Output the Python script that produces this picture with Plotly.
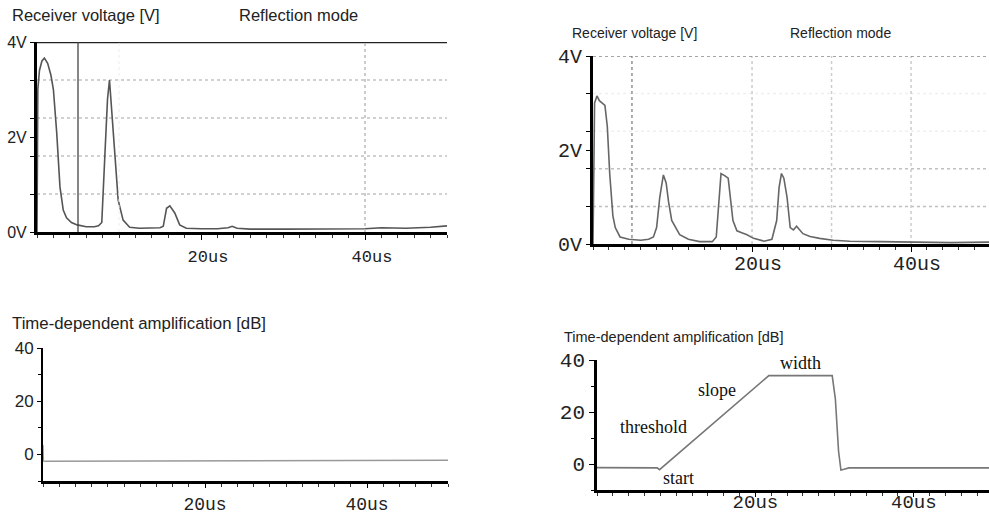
import plotly.graph_objects as go

W, H = 989, 516

# ---------------- data ----------------
# Panel A: receiver voltage, no TGC (time in us, voltage in V)
t_a = [0, 0.1, 0.3, 0.6, 0.9, 1.3, 1.7, 2.0, 2.4, 2.8, 3.2, 3.6, 4.2, 4.9, 6.0, 7.0, 7.5,
       7.9, 8.3, 8.6, 8.84, 9.1, 9.5, 9.9, 10.5, 11.3, 12.5, 14.0, 15.0, 15.4, 15.8, 16.2,
       16.8, 17.4, 18.2, 20.0, 22.0, 23.3, 23.8, 24.4, 26.0, 30.0, 35.0, 40.0, 42.0, 45.0,
       48.0, 50.0]
v_a = [0, 3.0, 3.4, 3.6, 3.66, 3.55, 3.3, 3.0, 2.1, 0.95, 0.46, 0.3, 0.2, 0.15, 0.11, 0.11, 0.13,
       0.2, 1.7, 2.8, 3.2, 2.6, 1.5, 0.67, 0.25, 0.1, 0.08, 0.08, 0.09, 0.12, 0.5, 0.55,
       0.4, 0.15, 0.08, 0.07, 0.07, 0.09, 0.12, 0.08, 0.06, 0.06, 0.06, 0.07, 0.09, 0.08,
       0.1, 0.13]

# Panel B: receiver voltage with TGC
t_b = [0, 0.2, 0.5, 0.8, 1.5, 1.8, 2.1, 2.5, 2.8, 3.4, 4.5, 6.0, 7.0, 7.6, 8.0, 8.4, 8.85,
       9.2, 9.5, 9.9, 10.9, 12.0, 13.4, 15.0, 15.5, 15.8, 16.1, 16.6, 17.0, 17.6, 18.1, 18.7,
       19.3, 20.2, 21.5, 22.5, 23.1, 23.4, 23.7, 24.0, 24.4, 24.8, 25.2, 25.6, 26.0, 26.4,
       27.3, 28.5, 30.2, 32.3, 36.0, 40.0, 45.0, 50.0]
v_b = [0, 3.0, 3.15, 3.05, 2.95, 2.5, 1.5, 0.6, 0.35, 0.15, 0.1, 0.08, 0.1, 0.15, 0.35, 1.0, 1.47,
       1.3, 0.9, 0.5, 0.2, 0.1, 0.05, 0.05, 0.15, 0.8, 1.5, 1.45, 1.4, 0.5, 0.28, 0.24,
       0.2, 0.12, 0.06, 0.1, 0.5, 1.2, 1.5, 1.4, 1.0, 0.35, 0.3, 0.38, 0.3, 0.22,
       0.16, 0.12, 0.08, 0.06, 0.05, 0.04, 0.03, 0.04]

# Panel C: TGC off (dB)
t_c = [0, 0.05, 0.3, 25.0, 50.0]
g_c = [3.5, -2.5, -2.6, -2.5, -2.2]

# Panel D: TGC curve (dB)
t_d = [0, 7.6, 7.9, 21.7, 29.7, 30.1, 30.5, 30.8, 31.2, 31.8, 50.0]
g_d = [-1.4, -1.5, -2.2, 34.0, 34.0, 25.0, 5.0, -2.3, -2.0, -1.5, -1.5]

# annotations for panel D: (label, t, dB)
labels_d = [("width", 25.7, 39.0), ("slope", 15.2, 28.5),
            ("threshold", 7.1, 14.2), ("start", 10.3, -5.4)]

volt_ticks = [0, 2, 4]
volt_text = ["0V", "2V", "4V"]
volt_grid = [0.8, 1.6, 2.4, 3.2]
db_ticks = [0, 20, 40]
db_text = ["0", "20", "40"]
time_ticks = [20, 40]
time_text = ["20us", "40us"]

# ---------------- helpers ----------------
def fx(px):
    return px / W

def fy(py):
    return 1 - py / H

MONO = "Liberation Mono"
SANS = "Liberation Sans"
SERIF = "Liberation Serif"

fig = go.Figure()

fig.add_trace(go.Scatter(x=t_a, y=v_a, mode="lines", xaxis="x", yaxis="y",
                         line=dict(color="#555", width=1.6), hoverinfo="skip"))
fig.add_trace(go.Scatter(x=t_b, y=v_b, mode="lines", xaxis="x2", yaxis="y2",
                         line=dict(color="#666", width=1.6), hoverinfo="skip"))
fig.add_trace(go.Scatter(x=t_c, y=g_c, mode="lines", xaxis="x3", yaxis="y3",
                         line=dict(color="#999", width=1.4), hoverinfo="skip"))
fig.add_trace(go.Scatter(x=t_d, y=g_d, mode="lines", xaxis="x4", yaxis="y4",
                         line=dict(color="#777", width=1.6), hoverinfo="skip"))

common_x = dict(showgrid=False, zeroline=False, showline=True, linecolor="black",
                ticks="outside", tickcolor="black", tickvals=time_ticks, ticktext=time_text)
common_y = dict(showgrid=False, zeroline=False, showline=True, linecolor="black",
                ticks="outside", tickcolor="black")

layout = dict(
    width=W, height=H, margin=dict(l=0, r=0, t=0, b=0, autoexpand=False),
    paper_bgcolor="white", plot_bgcolor="white", showlegend=False,
    xaxis=dict(common_x, domain=[fx(37), fx(447)], range=[0, 50], anchor="y",
               linewidth=2.5, ticklen=5, tickfont=dict(family=MONO, size=17, color="#222"),
               ticklabelstandoff=2, ticklabelshift=7, automargin=False,
               minor=dict(dtick=2, ticklen=3, ticks="outside", tickcolor="#333")),
    yaxis=dict(common_y, domain=[fy(232), fy(42)], range=[0, 4], anchor="x",
               linewidth=3, ticklen=4, tickvals=volt_ticks, ticktext=volt_text, automargin=False,
               tickfont=dict(family=SANS, size=16, color="#222"),
               minor=dict(tickvals=volt_grid, ticklen=4, ticks="outside")),
    xaxis2=dict(common_x, domain=[fx(593), 1.0], range=[0, 49.8], anchor="y2",
                linewidth=2.5, ticklen=5, tickfont=dict(family=MONO, size=20, color="#222"),
                ticklabelstandoff=-6, ticklabelshift=6, automargin=False,
                minor=dict(dtick=2, ticklen=3, ticks="outside", tickcolor="#333")),
    yaxis2=dict(common_y, domain=[fy(244), fy(56)], range=[0, 4], anchor="x2",
                linewidth=3, ticklen=4, tickvals=volt_ticks, ticktext=volt_text, automargin=False,
                tickfont=dict(family=MONO, size=20, color="#222"),
                minor=dict(tickvals=volt_grid, ticklen=4, ticks="outside")),
    xaxis3=dict(common_x, domain=[fx(43), fx(448)], range=[0, 50], anchor="y3",
                linewidth=2.5, ticklen=4, tickfont=dict(family=MONO, size=18, color="#222"),
                ticklabelstandoff=1, automargin=False,
                minor=dict(dtick=2, ticklen=3, ticks="outside", tickcolor="#333")),
    yaxis3=dict(common_y, domain=[fy(481), fy(348)], range=[-10, 40], anchor="x3",
                linewidth=2, ticklen=4, tickvals=db_ticks, ticktext=db_text, automargin=False,
                tickfont=dict(family=SANS, size=17, color="#222"),
                minor=dict(tickvals=[-10, 10, 30], ticklen=3, ticks="outside")),
    xaxis4=dict(common_x, domain=[fx(597), 1.0], range=[0, 49.5], anchor="y4",
                linewidth=2.5, ticklen=4, tickfont=dict(family=MONO, size=19, color="#222"),
                ticklabelstandoff=-12, automargin=False,
                minor=dict(dtick=2, ticklen=3, ticks="outside", tickcolor="#333")),
    yaxis4=dict(common_y, domain=[fy(490), fy(360)], range=[-10, 40], anchor="x4",
                linewidth=2.5, ticklen=5, tickvals=db_ticks, ticktext=db_text, automargin=False,
                tickfont=dict(family=MONO, size=21, color="#222"),
                minor=dict(tickvals=[-10, 10, 30], ticklen=3, ticks="outside")),
)
fig.update_layout(**layout)

shapes = []
# panel A horizontal dotted grid
for gv in volt_grid:
    shapes.append(dict(type="line", xref="x", yref="y", x0=0, x1=50, y0=gv, y1=gv,
                       line=dict(color="#c2c2c2", width=1.5, dash="dot"), layer="below"))
# panel B horizontal dotted grid (upper ones barely visible)
for gv, col in zip(volt_grid, ["#c0c0c0", "#c0c0c0", "#f0f0f0", "#f0f0f0"]):
    shapes.append(dict(type="line", xref="x2", yref="y2", x0=0, x1=49.8, y0=gv, y1=gv,
                       line=dict(color=col, width=1.5, dash="dot"), layer="below"))
shapes += [
    # panel A: heavy top border, cursor, dashed 40us grid, faint 10us grid
    dict(type="line", xref="x", yref="y", x0=0, x1=50, y0=4, y1=4,
         line=dict(color="#222", width=2.5)),
    dict(type="line", xref="x", yref="y", x0=5, x1=5, y0=0, y1=4,
         line=dict(color="#444", width=1.3)),
    dict(type="line", xref="x", yref="y", x0=40, x1=40, y0=0, y1=4,
         line=dict(color="#bbb", width=1.5, dash="dot")),
    dict(type="line", xref="x", yref="y", x0=10, x1=10, y0=0, y1=4,
         line=dict(color="#eee", width=1, dash="dot")),
    # panel B: dotted top border, cursor
    dict(type="line", xref="x2", yref="y2", x0=0, x1=49.8, y0=4, y1=4,
         line=dict(color="#888", width=1.5, dash="dot")),
    dict(type="line", xref="x2", yref="y2", x0=4.9, x1=4.9, y0=0, y1=4,
         line=dict(color="#777", width=1.2, dash="dot")),
]
for xv in (20, 30, 40):
    shapes.append(dict(type="line", xref="x2", yref="y2", x0=xv, x1=xv, y0=0, y1=4,
                       line=dict(color="#ccc", width=1.5, dash="dot"), layer="below"))
fig.update_layout(shapes=shapes)

ann = [
    dict(text="Receiver voltage [V]", x=fx(10), y=fy(15), size=16.5),
    dict(text="Reflection mode", x=fx(237), y=fy(15), size=16.5),
    dict(text="Receiver voltage [V]", x=fx(570), y=fy(33), size=14),
    dict(text="Reflection mode", x=fx(788), y=fy(33), size=14),
    dict(text="Time-dependent amplification [dB]", x=fx(10), y=fy(323), size=16.8),
    dict(text="Time-dependent amplification [dB]", x=fx(562), y=fy(337), size=14.5),
]
annotations = []
for a in ann:
    annotations.append(dict(text=a["text"], x=a["x"], y=a["y"], xref="paper", yref="paper",
                            xanchor="left", yanchor="middle", showarrow=False,
                            font=dict(family=SANS, size=a["size"], color="#222")))
for lab, tx, ty in labels_d:
    annotations.append(dict(text=lab, x=tx, y=ty, xref="x4", yref="y4",
                            xanchor="center", yanchor="middle", showarrow=False,
                            font=dict(family=SERIF, size=18, color="#111")))
fig.update_layout(annotations=annotations)

fig.write_html("out.html")
